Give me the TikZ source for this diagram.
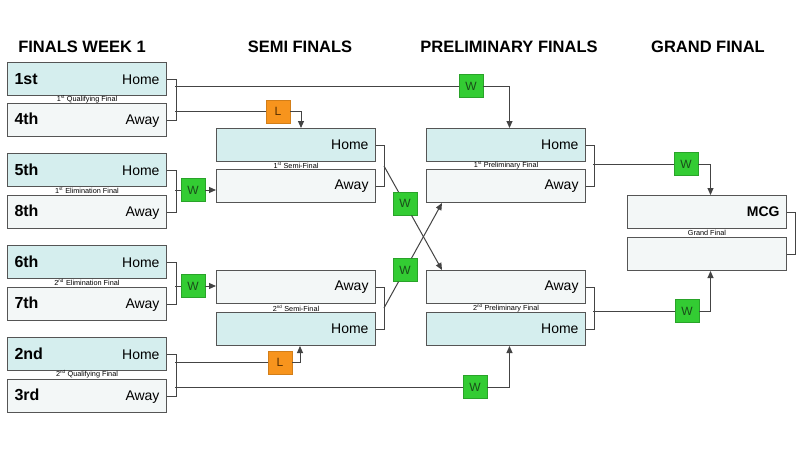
\documentclass[tikz,border=0pt]{standalone}
\usepackage{fontspec}
\setmainfont{Liberation Sans}
\usetikzlibrary{arrows.meta,calc}
\definecolor{homefill}{HTML}{D5EEEE}
\definecolor{awayfill}{HTML}{F3F7F7}
\definecolor{boxdraw}{HTML}{555555}
\definecolor{wgreen}{HTML}{33CC33}
\definecolor{wtext}{HTML}{1A4D1A}
\definecolor{lorange}{HTML}{F7941D}
\definecolor{ltext}{HTML}{5A3000}
\definecolor{conncol}{HTML}{444444}
\tikzset{
  teambox/.style={draw=boxdraw, line width=1pt, minimum width=159pt, minimum height=33pt,
    anchor=north west, inner xsep=7pt, text width=145pt, align=left, font=\fontsize{14}{14}\selectfont},
  homebox/.style={teambox, fill=homefill},
  awaybox/.style={teambox, fill=awayfill},
  wbox/.style={draw=wgreen!80!black, line width=0.4pt, fill=wgreen, minimum width=24pt, minimum height=23pt,
    inner sep=0pt, text=wtext, font=\fontsize{12}{12}\selectfont},
  lbox/.style={draw=lorange!85!black, line width=0.4pt, fill=lorange, minimum width=24pt, minimum height=23pt,
    inner sep=0pt, text=ltext, font=\fontsize{12}{12}\selectfont},
  conn/.style={draw=conncol, line width=1pt},
  arr/.style={conn, -{Triangle[length=7pt,width=6pt]}},
  header/.style={font=\bfseries\fontsize{16.5}{16.5}\selectfont},
  gamelabel/.style={font=\fontsize{7.3}{7.3}\selectfont, inner sep=0pt},
}
\newcommand{\sth}[1]{\textsuperscript{\fontsize{4.5}{4.5}\selectfont #1}}
\newcommand{\rk}[1]{{\bfseries\fontsize{16}{16}\selectfont #1}}
\begin{document}
\begin{tikzpicture}[x=1pt,y=-1pt]
\useasboundingbox[fill=white] (0,0) rectangle (800,450);

% headers
\node[header] (h1) at (82,46.5) {FINALS WEEK 1};
\node[header] (h2) at (300,46.5) {SEMI FINALS};
\node[header] (h3) at (509,46.5) {PRELIMINARY FINALS};
\node[header] (h4) at (708,46.5) {GRAND FINAL};

% finals week 1
\node[homebox] (q1h) at (7,62) {\rk{1st}\hfill Home\hspace*{3pt}};
\node[awaybox] (q1a) at (7,103) {\rk{4th}\hfill Away\hspace*{3pt}};
\node[gamelabel] (lq1) at (87,99) {1\sth{st} Qualifying Final};
\node[homebox] (e1h) at (7,153) {\rk{5th}\hfill Home\hspace*{3pt}};
\node[awaybox] (e1a) at (7,195) {\rk{8th}\hfill Away\hspace*{3pt}};
\node[gamelabel] (le1) at (87,190.5) {1\sth{st} Elimination Final};
\node[homebox] (e2h) at (7,245) {\rk{6th}\hfill Home\hspace*{3pt}};
\node[awaybox] (e2a) at (7,287) {\rk{7th}\hfill Away\hspace*{3pt}};
\node[gamelabel] (le2) at (87,282.5) {2\sth{nd} Elimination Final};
\node[homebox] (q2h) at (7,337) {\rk{2nd}\hfill Home\hspace*{3pt}};
\node[awaybox] (q2a) at (7,379) {\rk{3rd}\hfill Away\hspace*{3pt}};
\node[gamelabel] (lq2) at (87,374.5) {2\sth{nd} Qualifying Final};

% semi finals
\node[homebox] (s1h) at (216,128) {\hfill Home\hspace*{6pt}};
\node[awaybox] (s1a) at (216,169) {\hfill Away\hspace*{6pt}};
\node[gamelabel] (ls1) at (296,165.5) {1\sth{st} Semi-Final};
\node[awaybox] (s2a) at (216,270) {\hfill Away\hspace*{6pt}};
\node[homebox] (s2h) at (216,312) {\hfill Home\hspace*{6pt}};
\node[gamelabel] (ls2) at (296,308) {2\sth{nd} Semi-Final};

% preliminary finals
\node[homebox] (p1h) at (426,128) {\hfill Home\hspace*{6pt}};
\node[awaybox] (p1a) at (426,169) {\hfill Away\hspace*{6pt}};
\node[gamelabel] (lp1) at (506,165.5) {1\sth{st} Preliminary Final};
\node[awaybox] (p2a) at (426,270) {\hfill Away\hspace*{6pt}};
\node[homebox] (p2h) at (426,312) {\hfill Home\hspace*{6pt}};
\node[gamelabel] (lp2) at (506,308) {2\sth{nd} Preliminary Final};

% grand final
\node[awaybox] (gft) at (627,195) {\hfill\textbf{MCG}\hspace*{12pt}};
\node[awaybox] (gfb) at (627,237) {};
\node[gamelabel] (lgf) at (707,233) {Grand Final};

% brackets
\draw[conn] (q1h.east) -- ++(9,0) |- (q1a.east);
\draw[conn] (e1h.east) -- ++(9,0) |- (e1a.east);
\draw[conn] (e2h.east) -- ++(9,0) |- (e2a.east);
\draw[conn] (q2h.east) -- ++(9,0) |- (q2a.east);
\draw[conn] (s1h.east) -- ++(8,0) |- (s1a.east);
\draw[conn] (s2a.east) -- ++(8,0) |- (s2h.east);
\draw[conn] (p1h.east) -- ++(8,0) |- (p1a.east);
\draw[conn] (p2a.east) -- ++(8,0) |- (p2h.east);
\draw[conn] (gft.east) -- ++(8,0) |- (gfb.east);

% bracket coordinates
\coordinate (bq1t) at (175,86);
\coordinate (bq1b) at (175,111.5);
\coordinate (be1) at (175,190);
\coordinate (be2) at (175,286);
\coordinate (bq2t) at (175,362.5);
\coordinate (bq2b) at (175,387);
\coordinate (bs1) at (384,166);
\coordinate (bs2) at (384,308);
\coordinate (bp1) at (593,164);
\coordinate (bp2) at (593,311);
\coordinate (tp2a) at (442,270);
\coordinate (tp1a) at (442,203);

% W / L boxes
\node[wbox] (w1) at (471,86) {W};
\node[lbox] (l1) at (278,111.5) {L};
\node[wbox] (w2) at (193,190) {W};
\node[wbox] (w3) at ($(bs1)!0.362!(tp2a)$) {W};
\node[wbox] (w4) at ($(bs2)!0.362!(tp1a)$) {W};
\node[wbox] (w5) at (193,286) {W};
\node[lbox] (l2) at (280,362.5) {L};
\node[wbox] (w6) at (475,387) {W};
\node[wbox] (w7) at (686,164) {W};
\node[wbox] (w8) at (687,311) {W};

% connectors
\draw[conn] (bq1t) -- (w1.west);
\draw[arr] (w1.east) -| ($(p1h.north)+(3.5,0)$);
\draw[conn] (bq1b) -- (l1.west);
\draw[arr] (l1.east) -| ($(s1h.north)+(5,0)$);
\draw[conn] (be1) -- (w2.west);
\draw[arr] (w2.east) -- (s1a.west |- w2.east);
\draw[conn] (be2) -- (w5.west);
\draw[arr] (w5.east) -- (s2a.west |- w5.east);
\draw[conn] (bq2t) -- (l2.west);
\draw[arr] (l2.east) -| ($(s2h.south)+(4,0)$);
\draw[conn] (bq2b) -- (w6.west);
\draw[arr] (w6.east) -| ($(p2h.south)+(3.5,0)$);
\draw[conn] (bs1) -- (w3);
\draw[arr] (w3) -- (tp2a);
\draw[conn] (bs2) -- (w4);
\draw[arr] (w4) -- (tp1a);
\draw[conn] (bp1) -- (w7.west);
\draw[arr] (w7.east) -| ($(gft.north)+(3.5,0)$);
\draw[conn] (bp2) -- (w8.west);
\draw[arr] (w8.east) -| ($(gfb.south)+(3.5,0)$);
\end{tikzpicture}
\end{document}
